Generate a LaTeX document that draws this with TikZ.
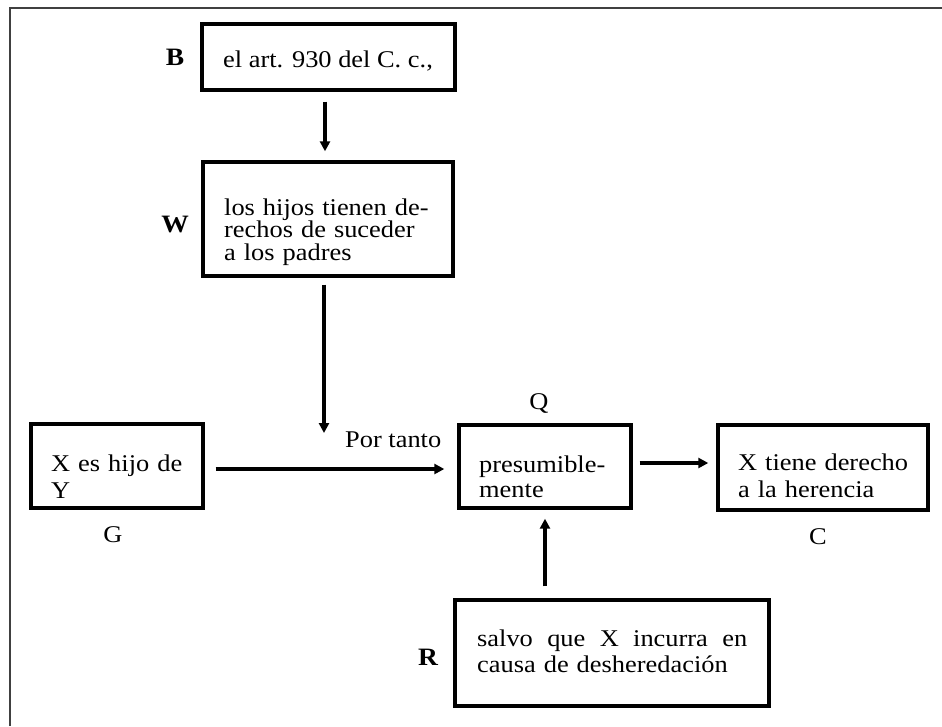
\documentclass[tikz,border=0pt]{standalone}
\usepackage{fontspec}
\setmainfont{Liberation Serif}[FakeStretch=1.1]
\usetikzlibrary{arrows.meta}
\begin{document}
\begin{tikzpicture}[x=1pt,y=-1pt,
  boxshape/.style={draw, line width=3.4pt, inner sep=0pt},
  txt/.style={inner sep=0pt, anchor=base west, align=left, font=\fontsize{24}{27}\selectfont},
  lbl/.style={inner sep=0pt, font=\fontsize{24}{27}\selectfont},
  lblb/.style={inner sep=0pt, font=\fontsize{25}{27}\selectfont\bfseries},
  arr/.style={line width=3.2pt, -{Triangle[length=10pt,width=10pt]}}]
\useasboundingbox (0,0) rectangle (942,726);
% frame
\draw[line width=1.5pt, black!75] (10,726) -- (10,8) -- (942,8);
% boxes
\node[boxshape, minimum width=253pt, minimum height=66pt] (B) at (328.5,57) {};
\node[boxshape, minimum width=250pt, minimum height=114pt] (W) at (328,219) {};
\node[boxshape, minimum width=172pt, minimum height=84pt] (G) at (117,466) {};
\node[boxshape, minimum width=172pt, minimum height=83pt] (Q) at (545,466.5) {};
\node[boxshape, minimum width=210pt, minimum height=85pt] (C) at (823,467.5) {};
\node[boxshape, minimum width=314pt, minimum height=106pt] (R) at (612,653) {};
% texts
\node[txt, anchor=base] (Bt) at (328,67) {el art. 930 del C. c.,};
\node[txt, text width=215pt, font=\fontsize{24}{22.5}\selectfont] (Wt) at (224,215) {los hijos tienen de-\\rechos de suceder\\a los padres};
\node[txt, text width=140pt] (Gt) at (51,471) {X es hijo de\\Y};
\node[txt, text width=140pt, font=\fontsize{24}{25}\selectfont] (Qt) at (479,472) {presumible-\\mente};
\node[txt, text width=180pt] (Ct) at (738,470) {X tiene derecho\\a la herencia};
\node[txt, text width=280pt, font=\fontsize{24}{26}\selectfont] (Rt) at (477,646) {\hbox to 270pt{salvo\hfill que\hfill X\hfill incurra\hfill en}\\causa de desheredación};
% labels
\node[lblb] (Bl) at (175,57) {B};
\node[lblb] (Wl) at (175,224) {W};
\node[lbl] (Gl) at (113,535) {G};
\node[lbl] (Ql) at (539,403) {Q};
\node[lbl] (Cl) at (818,537) {C};
\node[lblb] (Rl) at (428,657) {R};
\node[lbl, anchor=base west] (por) at (345,447) {Por tanto};
% connectors
\coordinate (wend) at (324,433);
\draw[arr, shorten <=10pt, shorten >=9pt] ([xshift=-3.5pt]B.south) -- ([xshift=-3pt]W.north);
\draw[arr, shorten <=7pt] ([xshift=-4pt]W.south) -- (wend);
\draw[arr, shorten <=11pt, shorten >=13pt] ([yshift=-3pt]G.east) -- ([yshift=-3pt]G.east -| Q.west);
\draw[arr, shorten <=7pt, shorten >=8pt] ([yshift=3.5pt]Q.east) -- ([yshift=3.5pt]Q.east -| C.west);
\draw[arr, shorten <=12pt, shorten >=9pt] (R.north -| Q.south) -- (Q.south);
\end{tikzpicture}
\end{document}
